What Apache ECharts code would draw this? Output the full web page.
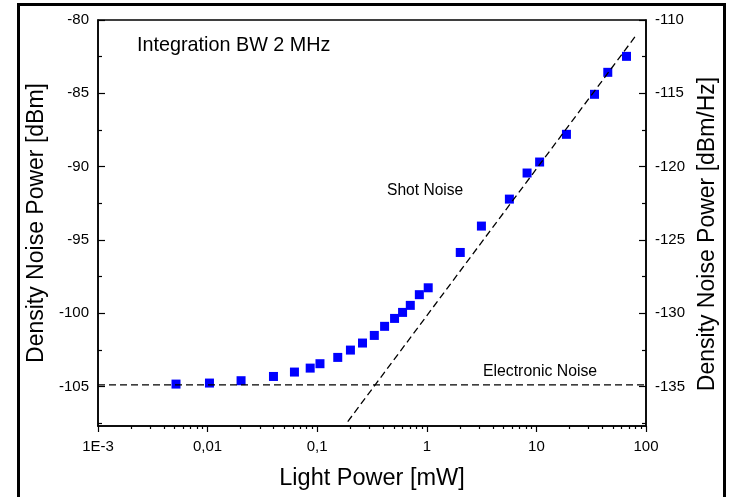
<!DOCTYPE html>
<html>
<head>
<meta charset="utf-8">
<script src="https://cdn.jsdelivr.net/npm/echarts@6/dist/echarts.min.js"></script>
<style>
  html, body { margin: 0; padding: 0; background: #fff; }
  #chart { width: 729px; height: 497px; }
</style>
</head>
<body>
<div id="chart"></div>
<script>
// Measured density noise power versus light power (left axis, dBm)
const powerMw = [0.00515, 0.0104, 0.0202, 0.0399, 0.062, 0.0863, 0.106, 0.154, 0.201, 0.259,
                 0.332, 0.412, 0.508, 0.601, 0.707, 0.855, 1.03, 2.02, 3.15, 5.67,
                 8.22, 10.7, 18.8, 33.9, 44.8, 66.4];
const noiseDbm = [-104.84, -104.77, -104.61, -104.32, -104.02, -103.75, -103.45, -103.02, -102.52, -102.04,
                  -101.52, -100.9, -100.36, -99.95, -99.47, -98.74, -98.27, -95.86, -94.06, -92.22,
                  -90.44, -89.69, -87.8, -85.07, -83.57, -82.48];

// Reference levels
const electronicNoiseX = [0.001, 100];
const electronicNoiseY = [-104.9, -104.9];
const shotNoiseX = [0.19, 83];
const shotNoiseY = [-107.4, -80.95];

// Axis ticks and labels
const xTickLabels = ['1E-3', '0,01', '0,1', '1', '10', '100'];
const leftTicks = [-105, -100, -95, -90, -85, -80];
const leftMinorTicks = [-107.5, -102.5, -97.5, -92.5, -87.5, -82.5];
const rightTicks = [-135, -130, -125, -120, -115, -110];
const rightMinorTicks = [-137.5, -132.5, -127.5, -122.5, -117.5, -112.5];

// Minor decade ticks (2..9 within each decade), placed on a log10 overlay axis
const xMinorTicksLog = [];
for (let d = -3; d < 2; d++) {
  for (let m = 2; m <= 9; m++) xMinorTicksLog.push(d + Math.log10(m));
}

const FONT = 'Liberation Sans, Arial, Helvetica, sans-serif';
const INK = '#000';

const chart = echarts.init(document.getElementById('chart'), null, { renderer: 'canvas' });

const plainTick = (len, values) => ({
  show: true, inside: true, length: len, customValues: values,
  lineStyle: { color: INK, width: 1.2 }
});
const mainLine = { show: true, onZero: false, lineStyle: { color: INK, width: 1.5 } };
const noLine = { show: false, onZero: false };

const option = {
  backgroundColor: '#fff',
  animation: false,
  grid: {
    left: 98, top: 20, width: 548, height: 406,
    show: true, backgroundColor: '#fff', borderColor: INK, borderWidth: 1.5
  },
  xAxis: [
    {
      type: 'log', logBase: 10, min: 0.001, max: 100, position: 'bottom',
      axisLine: mainLine,
      axisTick: { show: true, inside: false, length: 6, lineStyle: { color: INK, width: 1.2 } },
      axisLabel: {
        margin: 13, fontSize: 15, color: INK, fontFamily: FONT,
        formatter: v => xTickLabels[Math.round(Math.log10(v)) + 3]
      },
      splitLine: { show: false },
      name: 'Light Power [mW]', nameLocation: 'middle', nameGap: 41,
      nameTextStyle: { fontSize: 23.5, color: INK, fontFamily: FONT }
    },
    {
      // minor ticks of the log axis, laid out in log10 units
      type: 'value', min: -3, max: 2, position: 'bottom',
      axisLine: noLine,
      axisTick: { show: true, inside: false, length: 3, customValues: xMinorTicksLog,
                  lineStyle: { color: INK, width: 1.2 } },
      axisLabel: { show: false },
      splitLine: { show: false }
    }
  ],
  yAxis: [
    {
      type: 'value', min: -107.7, max: -80, position: 'left',
      axisLine: mainLine,
      axisTick: plainTick(7, leftTicks),
      axisLabel: { customValues: leftTicks, margin: 9, fontSize: 15, color: INK, fontFamily: FONT },
      splitLine: { show: false },
      name: 'Density Noise Power [dBm]', nameLocation: 'middle', nameGap: 42,
      nameTextStyle: { fontSize: 23, color: INK, fontFamily: FONT }
    },
    {
      type: 'value', min: -107.7, max: -80, position: 'left',
      axisLine: noLine,
      axisTick: plainTick(4, leftMinorTicks),
      axisLabel: { show: false },
      splitLine: { show: false }
    },
    {
      type: 'value', min: -137.7, max: -110, position: 'right',
      axisLine: mainLine,
      axisTick: plainTick(7, rightTicks),
      axisLabel: { customValues: rightTicks, margin: 9, fontSize: 15, color: INK, fontFamily: FONT },
      splitLine: { show: false },
      name: 'Density Noise Power [dBm/Hz]', nameLocation: 'middle', nameGap: 47,
      nameTextStyle: { fontSize: 23, color: INK, fontFamily: FONT, padding: [0, 22, 0, 0] }
    },
    {
      type: 'value', min: -137.7, max: -110, position: 'right',
      axisLine: noLine,
      axisTick: plainTick(4, rightMinorTicks),
      axisLabel: { show: false },
      splitLine: { show: false }
    }
  ],
  series: [
    {
      name: 'Electronic Noise', type: 'line', xAxisIndex: 0, yAxisIndex: 0,
      data: electronicNoiseX.map((x, i) => [x, electronicNoiseY[i]]),
      showSymbol: false, symbol: 'none', silent: true,
      lineStyle: { color: INK, width: 1.3, type: [7, 4] }
    },
    {
      name: 'Shot Noise', type: 'line', xAxisIndex: 0, yAxisIndex: 0,
      data: shotNoiseX.map((x, i) => [x, shotNoiseY[i]]),
      showSymbol: false, symbol: 'none', silent: true,
      lineStyle: { color: INK, width: 1.3, type: [7, 4] }
    },
    {
      name: 'Measured', type: 'scatter', xAxisIndex: 0, yAxisIndex: 0,
      data: powerMw.map((x, i) => [x, noiseDbm[i]]),
      symbol: 'rect', symbolSize: 9,
      itemStyle: { color: '#0000ff', opacity: 1 }
    }
  ],
  graphic: [
    {
      type: 'rect', silent: true, z: 100,
      shape: { x: 18.5, y: 4.5, width: 706, height: 510 },
      style: { fill: 'none', stroke: '#000', lineWidth: 3 }
    },
    {
      type: 'text', x: 137, y: 46, z: 100,
      style: { text: 'Integration BW 2 MHz', font: '19.8px ' + FONT, fill: INK, align: 'left', verticalAlign: 'middle' }
    },
    {
      type: 'text', x: 387, y: 191, z: 100,
      style: { text: 'Shot Noise', font: '15.6px ' + FONT, fill: INK, align: 'left', verticalAlign: 'middle' }
    },
    {
      type: 'text', x: 483, y: 372, z: 100,
      style: { text: 'Electronic Noise', font: '15.8px ' + FONT, fill: INK, align: 'left', verticalAlign: 'middle' }
    }
  ]
};

chart.setOption(option);
</script>
</body>
</html>
